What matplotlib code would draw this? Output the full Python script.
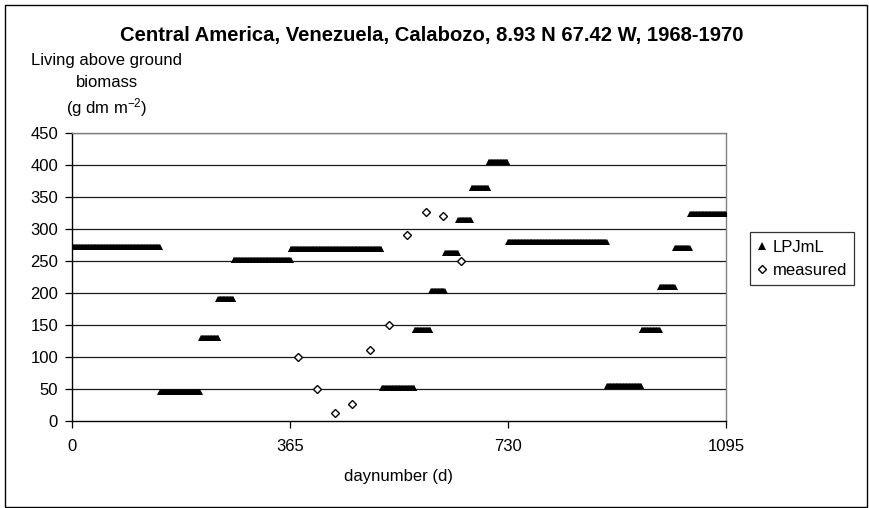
import numpy as np
import matplotlib
matplotlib.use("Agg")
import matplotlib.pyplot as plt
from matplotlib.patches import Rectangle

plt.rcParams["font.family"] = ["Liberation Sans", "DejaVu Sans"]
plt.rcParams["mathtext.fontset"] = "custom"
plt.rcParams["mathtext.rm"] = "Liberation Sans"
plt.rcParams["mathtext.it"] = "Liberation Sans:italic"

# LPJmL simulated living above-ground biomass, piecewise constant by period
seg_start = [0, 148, 216, 245, 271, 366, 519, 574, 601, 625, 647, 669, 698, 730, 896, 954, 985, 1010, 1035]
seg_end = [147, 214, 245, 270, 366, 518, 573, 600, 624, 646, 668, 697, 729, 895, 953, 984, 1009, 1034, 1095]
seg_value = [272, 45, 129, 190, 252, 268, 52, 142, 203, 262, 314, 364, 405, 279, 54, 142, 210, 270, 324]

# Field measurements
meas_day = [378, 411, 440, 469, 499, 530, 561, 592, 622, 651]
meas_value = [100, 50, 12, 27, 111, 150, 291, 326, 320, 250]

x_ticks = [0, 365, 730, 1095]
y_ticks = list(range(0, 451, 50))

# expand each period into daily model values
lpj_day = np.concatenate([np.arange(s, e + 1) for s, e in zip(seg_start, seg_end)])
lpj_val = np.concatenate([np.full(e - s + 1, v, dtype=float)
                          for s, e, v in zip(seg_start, seg_end, seg_value)])

W, H = 870, 508
fig = plt.figure(figsize=(W / 100, H / 100), dpi=100)
fig.patch.set_facecolor("white")

ax = fig.add_axes([72 / W, 1 - 421 / H, (726 - 72) / W, (421 - 133) / H])
ax.set_xlim(0, 1095)
ax.set_ylim(0, 450)

for yv in y_ticks[1:]:
    ax.axhline(yv, color="#1a1a1a", lw=0.9, zorder=1)

ax.plot(lpj_day, lpj_val, linestyle="none", marker="^", markersize=4.8,
        color="black", markeredgewidth=0, label="LPJmL", zorder=3)
ax.plot(meas_day, meas_value, linestyle="none", marker="D", markersize=4.0,
        markerfacecolor="white", markeredgecolor="black", markeredgewidth=1.0,
        label="measured", zorder=4)

ax.set_xticks(x_ticks)
ax.set_yticks(y_ticks)
ax.tick_params(axis="both", direction="out", length=5, width=0.9, color="black",
               labelsize=12)
ax.tick_params(axis="x", pad=8)
ax.tick_params(axis="y", pad=5)
for side in ("left", "bottom"):
    ax.spines[side].set_color("black")
    ax.spines[side].set_linewidth(1.0)
for side in ("top", "right"):
    ax.spines[side].set_color("#808080")
    ax.spines[side].set_linewidth(1.0)

ax.set_xlabel("daynumber (d)", fontsize=12, labelpad=11)

fig.text(432 / W, 1 - 35 / H, "Central America, Venezuela, Calabozo, 8.93 N 67.42 W, 1968-1970",
         ha="center", va="center", fontsize=14.6, fontweight="bold")

ylab_x = 107 / W
fig.text(ylab_x, 1 - 60 / H, "Living above ground", ha="center", va="center", fontsize=12)
fig.text(ylab_x, 1 - 83 / H, "biomass", ha="center", va="center", fontsize=12)
fig.text(ylab_x, 1 - 108 / H, "(g dm m$^{-2}$)", ha="center", va="center", fontsize=12)

leg = fig.legend(loc="upper left", bbox_to_anchor=(750 / W, 1 - 232 / H),
                 fontsize=12, frameon=True, fancybox=False, shadow=False,
                 handlelength=0.6, handletextpad=0.3, borderpad=0.45,
                 labelspacing=0.5, markerscale=1.1, borderaxespad=0)
leg.get_frame().set_edgecolor("black")
leg.get_frame().set_linewidth(0.9)

fig.patches.append(Rectangle((5 / W, 1 - 507 / H), (867 - 5) / W, (507 - 5) / H,
                             transform=fig.transFigure, fill=False,
                             edgecolor="black", linewidth=1.0))

fig.savefig("out.png", dpi=100)
